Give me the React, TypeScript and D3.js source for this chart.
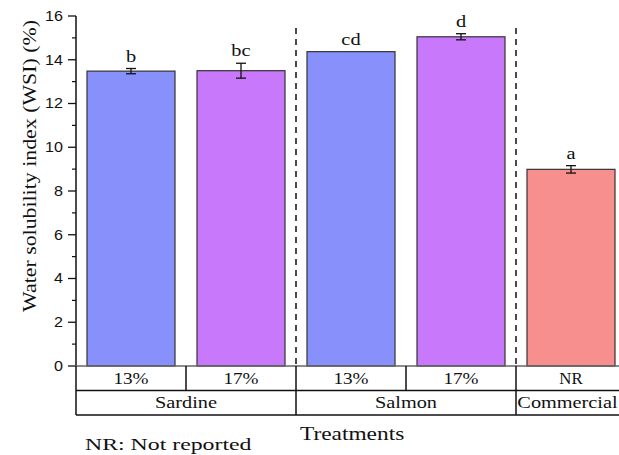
import * as d3 from "d3";

const treatments = ["Sardine 13%", "Sardine 17%", "Salmon 13%", "Salmon 17%", "Commercial NR"];
const levels = ["13%", "17%", "13%", "17%", "NR"];
const groups = ["Sardine", "Sardine", "Salmon", "Salmon", "Commercial"];
const wsi = [13.48, 13.5, 14.37, 15.05, 8.99];
const errors = [0.12, 0.34, 0, 0.14, 0.17];
const letters = ["b", "bc", "cd", "d", "a"];
const colors = ["#8891fb", "#c878fb", "#8891fb", "#c878fb", "#f78f8f"];
const yTicks = [0, 2, 4, 6, 8, 10, 12, 14, 16];
const yMinor = [1, 3, 5, 7, 9, 11, 13, 15];

const W = 619;
const H = 455;
const axisX = 76;
const rowH = 24.5;

const serif = "'Liberation Serif', 'Times New Roman', serif";
const sans = "'Liberation Sans', Arial, sans-serif";

// the original text is a bit stretched along its reading direction
const Label = ({ x, y, sx = 1.2, size = 16, anchor = "middle", dy, font = serif, children }: any) => (
  <text
    transform={`translate(${x},${y}) scale(${sx},1)`}
    dy={dy}
    textAnchor={anchor}
    fontFamily={font}
    fontSize={size}
    fill="#111"
  >
    {children}
  </text>
);

export default function App() {
  const x = d3.scaleBand().domain(treatments).range([axisX, 626]).paddingInner(0.2).paddingOuter(0.1);
  const y = d3.scaleLinear().domain([0, 16]).range([366, 16]);
  const step = x.step();
  const bw = x.bandwidth();
  const y0 = y(0);
  const gap = (step - bw) / 2;

  // cell edges between neighbouring bars
  const edge = (i: number) => (x(treatments[i]) as number) + bw + gap;

  const groupNames = Array.from(new Set(groups));
  const spans = groupNames.map((g) => {
    const idx = groups.map((d, i) => (d === g ? i : -1)).filter((i) => i >= 0);
    const x0 = idx[0] === 0 ? axisX : edge(idx[0] - 1);
    const x1 = edge(idx[idx.length - 1]);
    return { g, x0, x1 };
  });

  return (
    <svg width={W} height={H} style={{ position: "absolute", left: 0, top: 0, background: "#fff" }}>
      {/* bars */}
      {treatments.map((t, i) => {
        const bx = x(t) as number;
        const top = y(wsi[i]);
        const cx = bx + bw / 2;
        const eTop = y(wsi[i] + errors[i]);
        const eBot = y(wsi[i] - errors[i]);
        return (
          <g key={t}>
            <rect x={bx} y={top} width={bw} height={y0 - top} fill={colors[i]} stroke="#333" strokeWidth={1.2} />
            {errors[i] > 0 && (
              <g stroke="#111" strokeWidth={1.3}>
                <line x1={cx} x2={cx} y1={eTop} y2={eBot} />
                <line x1={cx - 5} x2={cx + 5} y1={eTop} y2={eTop} />
                <line x1={cx - 5} x2={cx + 5} y1={eBot} y2={eBot} />
              </g>
            )}
            <Label x={cx} y={eTop - 7} size={17}>
              {letters[i]}
            </Label>
          </g>
        );
      })}

      {/* dashed group separators */}
      {[1, 3].map((i) => (
        <line key={i} x1={edge(i)} x2={edge(i)} y1={28} y2={y0} stroke="#111" strokeWidth={1.5} strokeDasharray="6,5" />
      ))}

      {/* y axis */}
      <line x1={axisX} x2={axisX} y1={y(16)} y2={y0} stroke="#111" strokeWidth={1.5} />
      {yTicks.map((t) => (
        <g key={t}>
          <line x1={axisX - 8} x2={axisX} y1={y(t)} y2={y(t)} stroke="#111" strokeWidth={1.3} />
          <Label x={63} y={y(t)} dy="0.35em" anchor="end" font={sans} size={14} sx={1.15}>
            {t}
          </Label>
        </g>
      ))}
      {yMinor.map((t) => (
        <line key={t} x1={axisX - 4} x2={axisX} y1={y(t)} y2={y(t)} stroke="#111" strokeWidth={1.2} />
      ))}
      <line x1={axisX - 8} x2={W} y1={y0} y2={y0} stroke="#666" strokeWidth={1.3} />

      {/* category table */}
      <g stroke="#111" strokeWidth={1.5}>
        <line x1={axisX} x2={W} y1={y0 + rowH} y2={y0 + rowH} />
        <line x1={axisX} x2={W} y1={y0 + 2 * rowH} y2={y0 + 2 * rowH} />
        <line x1={axisX} x2={axisX} y1={y0} y2={y0 + 2 * rowH} />
        {treatments.map((t, i) => (
          <line key={t} x1={edge(i)} x2={edge(i)} y1={y0} y2={y0 + rowH} />
        ))}
        {spans.map((s) => (
          <line key={s.g} x1={s.x1} x2={s.x1} y1={y0 + rowH} y2={y0 + 2 * rowH} />
        ))}
      </g>
      {treatments.map((t, i) => (
        <Label key={t} x={(x(t) as number) + bw / 2} y={y0 + rowH / 2} dy="0.35em" sx={levels[i] === "NR" ? 1.05 : 1.2}>
          {levels[i]}
        </Label>
      ))}
      {spans.map((s) => (
        <Label key={s.g} x={(s.x0 + Math.min(s.x1, W)) / 2} y={y0 + 1.5 * rowH} dy="0.35em" sx={1.27}>
          {s.g}
        </Label>
      ))}

      {/* titles */}
      <Label x={300} y={440} anchor="start" size={19} sx={1.23}>
        Treatments
      </Label>
      <Label x={85} y={450} anchor="start" size={17} sx={1.4}>
        NR: Not reported
      </Label>
      <text
        transform={`translate(36,166) rotate(-90) scale(1.15,1)`}
        textAnchor="middle"
        fontFamily={serif}
        fontSize={19}
        fill="#111"
      >
        Water solubility index (WSI) (%)
      </text>
    </svg>
  );
}
